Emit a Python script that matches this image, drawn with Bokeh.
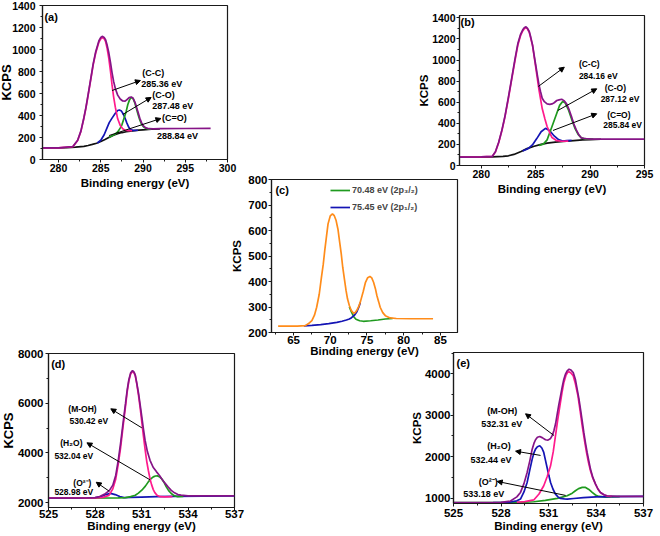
from bokeh.plotting import figure
from bokeh.models import Label, Arrow, NormalHead, SingleIntervalTicker, Range1d, Legend, LegendItem
from bokeh.layouts import column
from bokeh.embed import file_html
from bokeh.resources import INLINE

FONT = "Liberation Sans"

# ---------------- data: panel (a) C 1s ----------------
a_env_x = [278, 280, 281.7, 282.26, 282.65, 283.0, 283.23, 283.5, 283.81, 284.1, 284.4, 284.78, 285.0, 285.17, 285.4,
           285.56, 285.75, 285.95, 286.15, 286.33, 286.52, 286.72, 287.0, 287.3, 287.6, 287.88, 288.1, 288.35, 288.6,
           288.8, 289.05, 289.25, 289.43, 289.62, 289.82, 290.05, 290.33, 290.7, 291.2, 292, 295, 298]
a_env_y = [105, 106, 118, 175, 260, 380, 470, 590, 733, 870, 980, 1080, 1110, 1120, 1110,
           1090, 1040, 970, 880, 790, 710, 645, 585, 550, 532, 530, 545, 562, 568,
           560, 520, 470, 425, 375, 335, 305, 288, 280, 279, 280, 282, 283]
a_cc_x = [278, 280, 281.7, 282.26, 282.65, 283.0, 283.23, 283.5, 283.81, 284.1, 284.4, 284.78, 285.0, 285.17, 285.4,
          285.56, 285.75, 285.95, 286.15, 286.33, 286.52, 286.72, 287.0, 287.3, 287.6, 287.88, 288.27, 288.7]
a_cc_y = [105, 106, 117, 173, 256, 375, 463, 582, 725, 860, 968, 1068, 1098, 1108, 1098,
          1075, 1010, 920, 800, 680, 570, 476, 370, 310, 280, 266, 262, 262]
a_co_x = [284.6, 285.0, 285.4, 285.75, 286.0, 286.33, 286.72, 287.0, 287.2, 287.45, 287.69, 287.9, 288.08, 288.3,
          288.47, 288.8, 289.05, 289.4]
a_co_y = [150, 175, 225, 290, 335, 376, 420, 445, 450, 440, 409, 370, 333, 295, 275, 265, 264, 266]
a_ceo_x = [286.0, 286.5, 286.72, 287.0, 287.3, 287.5, 287.75, 288.0, 288.2, 288.39, 288.55, 288.7, 288.85, 289.05,
           289.25, 289.43, 289.62, 289.82, 290.05, 290.33, 290.7, 291.0]
a_ceo_y = [200, 222, 232, 250, 285, 315, 375, 435, 500, 540, 560, 563, 550, 510, 455, 405, 360, 322, 298, 283, 276, 276]
a_bg_x = [278, 280, 281, 282, 283, 283.5, 284, 284.5, 285, 285.5, 286, 286.5, 287, 287.5, 288, 288.5, 289, 289.5,
          290, 291, 292]
a_bg_y = [105, 106, 108, 112, 120, 127, 137, 148, 163, 182, 202, 220, 235, 245, 252, 258, 263, 267, 270, 275, 278]

# ---------------- data: panel (b) C 1s ----------------
b_env_x = [278, 280, 281.0, 281.3, 281.6, 281.9, 282.17, 282.5, 282.77, 283.1, 283.37, 283.6, 283.81, 283.95, 284.11,
           284.25, 284.41, 284.55, 284.71, 284.85, 285.0, 285.15, 285.3, 285.45, 285.6, 285.8, 286.05, 286.3, 286.5,
           286.7, 286.94, 287.15, 287.39, 287.6, 287.84, 288.05, 288.29, 288.5, 288.73, 288.95, 289.18, 289.4, 289.63,
           290.2, 292, 295]
b_env_y = [80, 81, 86, 130, 220, 338, 464, 650, 812, 1010, 1160, 1240, 1286, 1305, 1315,
           1300, 1270, 1215, 1144, 1050, 955, 860, 766, 700, 638, 605, 584, 580, 584,
           595, 616, 622, 628, 615, 584, 535, 464, 395, 338, 295, 262, 258, 255,
           250, 250, 250]
b_cc_x = [278, 280, 281.0, 281.3, 281.6, 281.9, 282.17, 282.5, 282.77, 283.1, 283.37, 283.6, 283.81, 283.95, 284.11,
          284.25, 284.41, 284.55, 284.71, 285.0, 285.3, 285.6, 285.85, 286.05, 286.3, 286.5, 286.94, 287.4, 288.0]
b_cc_y = [80, 81, 86, 128, 216, 332, 456, 640, 800, 995, 1145, 1228, 1276, 1297, 1308,
          1294, 1262, 1205, 1138, 935, 720, 540, 440, 370, 310, 265, 235, 230, 232]
b_co_x = [283.8, 284.3, 284.7, 285.1, 285.5, 285.9, 286.3, 286.7, 287.1, 287.5, 287.84, 288.3]
b_co_y = [138, 160, 195, 255, 320, 352, 330, 280, 245, 232, 235, 238]
b_ceo_x = [285.3, 285.7, 286.05, 286.5, 286.94, 287.2, 287.48, 287.7, 288.0, 288.3, 288.6, 288.9, 289.2, 289.6, 290.3]
b_ceo_y = [190, 203, 243, 370, 496, 570, 607, 595, 530, 440, 355, 295, 262, 250, 250]
b_bg_x = [278, 280, 281, 282, 282.5, 283, 283.66, 284.2, 284.86, 285.5, 286.05, 286.8, 287.54, 288.5, 289.33, 290, 291]
b_bg_y = [79, 80, 82, 86, 92, 105, 133, 160, 182, 200, 212, 222, 229, 236, 242, 246, 249]

# ---------------- data: panel (c) ----------------
c_env_x = [62.9, 64, 65.5, 66.6, 67.05, 67.5, 67.85, 68.15, 68.5, 68.8, 69.05, 69.25, 69.5, 69.7, 70.0, 70.3, 70.55,
           70.8, 71.05, 71.25, 71.5, 71.7, 71.95, 72.15, 72.35, 72.6, 72.85, 73.15, 73.4, 73.6, 73.9, 74.15, 74.5,
           74.8, 75.1, 75.4, 75.65, 75.9, 76.15, 76.35, 76.6, 76.8, 77.15, 77.5, 78.15, 79, 81, 84]
c_env_y = [225, 225, 225, 227, 235, 247, 268, 299, 350, 416, 468, 521, 580, 626, 657, 665, 658, 639, 605, 561, 508,
           456, 405, 365, 332, 306, 287, 276, 278, 286, 303, 325, 362, 397, 415, 420, 414, 397, 372, 345, 320, 299,
           278, 266, 257, 255, 254, 254]
c_p32_x = [72.6, 72.9, 73.2, 73.5, 74.0, 74.5, 75.5, 76.5, 77.5, 78.5]
c_p32_y = [300, 280, 262, 252, 246, 244, 246, 249, 253, 255]
c_p12_x = [66.4, 67.5, 68.7, 69.8, 70.9, 71.6, 72.2, 72.6, 72.9, 73.3, 73.6, 73.9, 74.1]
c_p12_y = [226, 228, 231, 235, 240, 244, 249, 253, 258, 268, 280, 300, 318]
c_legend = ["70.48 eV (2p\u2083/\u2082)", "75.45 eV (2p\u2081/\u2082)"]

# ---------------- data: panel (d) O 1s ----------------
d_env_x = [525, 527, 527.5, 528.0, 528.3, 528.6, 528.92, 529.15, 529.34, 529.5, 529.65, 529.8, 529.97, 530.08,
           530.18, 530.3, 530.42, 530.52, 530.6, 530.7, 530.81, 530.92, 531.02, 531.12, 531.23, 531.38, 531.55,
           531.75, 531.97, 532.15, 532.29, 532.5, 532.71, 532.92, 533.13, 533.35, 533.55, 534, 537]
d_env_y = [2180, 2180, 2185, 2200, 2240, 2330, 2480, 2700, 3100, 3700, 4380, 5150, 5990, 6550,
           6930, 7220, 7310, 7250, 7130, 6800, 6390, 5900, 5450, 4980, 4510, 4050, 3700,
           3420, 3235, 3100, 2970, 2790, 2630, 2490, 2390, 2320, 2295, 2270, 2265]
d_moh_x = [525, 528.0, 528.5, 528.9, 529.15, 529.34, 529.5, 529.65, 529.8, 529.97, 530.08, 530.18, 530.3, 530.42,
           530.52, 530.6, 530.7, 530.81, 530.92, 531.02, 531.12, 531.23, 531.34, 531.44, 531.55, 531.65, 531.76,
           531.86, 532.0, 532.2, 532.5, 533]
d_moh_y = [2180, 2185, 2210, 2290, 2550, 2950, 3550, 4200, 5000, 5880, 6470, 6880, 7180, 7280,
           7220, 7100, 6760, 6300, 5780, 5250, 4700, 4150, 3650, 3300, 2950, 2720, 2520,
           2400, 2290, 2235, 2230, 2235]
d_o2_x = [525, 528.0, 528.4, 528.7, 529.0, 529.3, 529.6, 529.87, 530.3, 531, 532, 533, 535, 537]
d_o2_y = [2180, 2190, 2240, 2320, 2370, 2320, 2240, 2200, 2205, 2220, 2240, 2250, 2258, 2262]
d_h2o_x = [525, 529.5, 529.97, 530.3, 530.6, 530.8, 531.02, 531.25, 531.44, 531.6, 531.76, 531.9, 532.03, 532.15,
           532.29, 532.45, 532.6, 532.75, 532.92, 533.1, 533.34, 533.7]
d_h2o_y = [2180, 2190, 2200, 2240, 2295, 2380, 2496, 2660, 2832, 2950, 3033, 3068, 3074, 3040,
           2966, 2820, 2631, 2480, 2362, 2280, 2235, 2245]

# ---------------- data: panel (e) O 1s ----------------
e_env_x = [525, 527, 528, 528.6, 529.0, 529.23, 529.45, 529.65, 529.82, 529.97, 530.08, 530.18, 530.3, 530.45, 530.6,
           530.81, 530.97, 531.13, 531.25, 531.34, 531.45, 531.55, 531.65, 531.76, 531.87, 531.97, 532.08, 532.18,
           532.3, 532.42, 532.56, 532.7, 532.81, 532.92, 533.02, 533.13, 533.23, 533.34, 533.44, 533.55, 533.65,
           533.8, 533.97, 534.12, 534.28, 534.5, 534.7, 535.34, 537]
e_env_y = [890, 890, 895, 930, 1030, 1137, 1350, 1620, 1900, 2182, 2320, 2408, 2470, 2488, 2460,
           2408, 2400, 2440, 2520, 2625, 2800, 3027, 3250, 3469, 3690, 3871, 4000, 4072,
           4110, 4090, 4032, 3860, 3630, 3400, 3147, 2860, 2584, 2320, 2102, 1890, 1700,
           1500, 1338, 1220, 1137, 1080, 1057, 1040, 1040]
e_moh_x = [529.0, 529.5, 530.07, 530.4, 530.7, 530.92, 531.13, 531.3, 531.44, 531.58, 531.72, 531.85, 531.97, 532.1,
           532.2, 532.29, 532.42, 532.56, 532.7, 532.86, 533.0, 533.13, 533.27, 533.4, 533.52, 533.65, 533.8,
           533.97, 534.12, 534.28, 534.5, 534.7, 535]
e_moh_y = [900, 915, 956, 1100, 1298, 1520, 1780, 2120, 2504, 2880, 3228, 3540, 3791, 3960,
           4030, 4048, 4020, 3951, 3760, 3469, 3100, 2745, 2400, 2102, 1870, 1660, 1480,
           1338, 1220, 1137, 1080, 1050, 1040]
e_h2o_x = [527.5, 528.5, 529.0, 529.23, 529.45, 529.65, 529.82, 529.97, 530.08, 530.18, 530.3, 530.45, 530.58, 530.7,
           530.8, 530.91, 531.02, 531.13, 531.28, 531.44, 531.6, 531.76, 532.0, 532.18, 532.6, 533.2, 534, 535, 537]
e_h2o_y = [890, 900, 935, 977, 1150, 1378, 1680, 1941, 2090, 2182, 2240, 2263, 2210, 2102,
           1930, 1740, 1550, 1378, 1220, 1097, 1030, 992, 980, 976, 990, 1010, 1030, 1038, 1040]
e_o2_x = [525, 527, 528.5, 529.5, 530.07, 530.8, 531.55, 532.18, 532.5, 532.7, 532.9, 533.13, 533.34, 533.55, 533.76,
          533.97, 534.18, 534.6, 535.0, 535.5]
e_o2_y = [890, 892, 898, 905, 912, 945, 992, 1057, 1120, 1178, 1230, 1258, 1258, 1210, 1137,
          1075, 1041, 1025, 1030, 1035]

PURPLE = "#861487"
PINK = "#ff1a8c"
BLUE = "#1414b4"
GREEN = "#1f9a1f"
BLACK = "#111111"
ORANGE = "#ff8c1a"


def make_panel(frame, xr, yr, border, xt, yt, fs, ytitle_fs, ystand, ytstand, xstand, xtstand):
    fl, ft, fw, fh = frame
    bl, br, bt, bb = border
    p = figure(width=bl + fw + br, height=bt + fh + bb,
               x_range=Range1d(*xr), y_range=Range1d(*yr),
               output_backend="svg", toolbar_location=None,
               min_border_left=bl, min_border_right=br, min_border_top=bt, min_border_bottom=bb,
               background_fill_color=None, border_fill_color=None,
               outline_line_color="#1a1a1a", outline_line_width=1.2,
               styles={"position": "absolute", "left": f"{fl - bl}px", "top": f"{ft - bt}px"})
    p.xgrid.visible = False
    p.ygrid.visible = False
    p.xaxis.ticker = SingleIntervalTicker(interval=xt[0], num_minor_ticks=xt[1])
    p.yaxis.ticker = SingleIntervalTicker(interval=yt[0], num_minor_ticks=yt[1])
    for ax in (p.xaxis, p.yaxis):
        ax.major_tick_in = 0
        ax.major_tick_out = 3
        ax.minor_tick_in = 0
        ax.minor_tick_out = 2
        ax.axis_line_color = "#1a1a1a"
        ax.axis_line_width = 1.2
        ax.major_tick_line_color = "#1a1a1a"
        ax.minor_tick_line_color = "#1a1a1a"
        ax.major_label_text_font = FONT
        ax.major_label_text_font_style = "bold"
        ax.major_label_text_font_size = fs
        ax.major_label_text_color = "black"
        ax.axis_label_text_font = FONT
        ax.axis_label_text_font_style = "bold"
        ax.axis_label_text_color = "black"
    p.xaxis.axis_label = "Binding energy (eV)"
    p.xaxis.axis_label_text_font_size = "11.5px"
    p.yaxis.axis_label = "KCPS"
    p.yaxis.axis_label_text_font_size = ytitle_fs
    p.yaxis.major_label_standoff = ystand
    p.yaxis.axis_label_standoff = ytstand
    p.xaxis.major_label_standoff = xstand
    p.xaxis.axis_label_standoff = xtstand
    return p


def tag(p, x, y, text, size):
    p.add_layout(Label(x=x, y=y, text=text, text_font=FONT, text_font_style="bold",
                       text_font_size=size, text_baseline="middle", text_align="left", text_color="black"))


def arrow(p, xs, ys, xe, ye):
    p.add_layout(Arrow(end=NormalHead(size=5, fill_color="black", line_color="black", line_width=1),
                       x_start=xs, y_start=ys, x_end=xe, y_end=ye, line_color="black", line_width=1))


LW = 1.7

# ---- (a) ----
pa = make_panel((42, 5, 189, 154), (278.1, 300), (0, 1400), (60, 12, 8, 40),
                (5, 2), (200, 2), "10.5px", "13px", 4, -5, 1, 2)
pa.line(a_bg_x, a_bg_y, line_color=BLACK, line_width=LW)
pa.line(a_co_x, a_co_y, line_color=BLUE, line_width=LW)
pa.line(a_ceo_x, a_ceo_y, line_color=GREEN, line_width=LW)
pa.line(a_cc_x, a_cc_y, line_color=PINK, line_width=LW)
pa.line(a_env_x, a_env_y, line_color=PURPLE, line_width=LW)
tag(pa, 278.33, 1300, "(a)", "11px")
arrow(pa, 286.33, 627, 289.69, 718)
arrow(pa, 287.6, 409, 290.96, 564)
arrow(pa, 285.98, 218, 292.12, 373)
tag(pa, 289.92, 782, "(C-C)", "9px")
tag(pa, 289.8, 688, "285.36 eV", "9px")
tag(pa, 291.08, 588, "(C-O)", "9px")
tag(pa, 291.08, 482, "287.48 eV", "9px")
tag(pa, 292.24, 379, "(C=O)", "9px")
tag(pa, 291.66, 218, "288.84 eV", "9px")

# ---- (b) ----
pb = make_panel((459, 15, 190, 150), (278, 295), (0, 1422), (60, 11, 8, 40),
                (5, 2), (200, 2), "10.5px", "11.5px", 1, -1, 1, 2)
pb.line(b_bg_x, b_bg_y, line_color=BLACK, line_width=LW)
pb.line(b_co_x, b_co_y, line_color=BLUE, line_width=LW)
pb.line(b_ceo_x, b_ceo_y, line_color=GREEN, line_width=LW)
pb.line(b_cc_x, b_cc_y, line_color=PINK, line_width=LW)
pb.line(b_env_x, b_env_y, line_color=PURPLE, line_width=LW)
tag(pb, 278.1, 1356, "(b)", "11px")
arrow(pb, 285.24, 749, 287.63, 932)
arrow(pb, 287.03, 521, 290.61, 727)
arrow(pb, 286.59, 332, 290.61, 490)
tag(pb, 288.97, 964, "(C-C)", "8.5px")
tag(pb, 288.97, 853, "284.16 eV", "8.5px")
tag(pb, 291.35, 733, "(C-O)", "8.5px")
tag(pb, 290.97, 626, "287.12 eV", "8.5px")
tag(pb, 291.57, 481, "(C=O)", "8.5px")
tag(pb, 291.21, 386, "285.84 eV", "8.5px")

# ---- (c) ----
pc = make_panel((271, 179, 190, 153), (62, 87.33), (200, 800), (60, 12, 8, 35),
                (5, 2), (100, 2), "11.5px", "11.5px", 1, 2, 0, -2)
r32 = pc.line(c_p32_x, c_p32_y, line_color=GREEN, line_width=LW)
r12 = pc.line(c_p12_x, c_p12_y, line_color=BLUE, line_width=LW)
pc.line(c_env_x, c_env_y, line_color=ORANGE, line_width=LW)
tag(pc, 62.53, 760, "(c)", "11px")
leg = Legend(items=[LegendItem(label=c_legend[0], renderers=[r32]),
                    LegendItem(label=c_legend[1], renderers=[r12])],
             location=(59, 119), border_line_color=None, background_fill_alpha=0,
             padding=0, margin=0, spacing=5, glyph_width=20, glyph_height=12, label_height=12,
             label_standoff=2, label_text_font=FONT, label_text_font_style="bold",
             label_text_font_size="9px")
pc.add_layout(leg)

# ---- (d) ----
pd_ = make_panel((48, 353, 190, 154), (525, 537), (1800, 8000), (60, 12, 8, 29),
                 (3, 2), (2000, 2), "11.5px", "13px", 2, -1, -1, -1)
pd_.line(d_o2_x, d_o2_y, line_color=BLUE, line_width=LW)
pd_.line(d_h2o_x, d_h2o_y, line_color=GREEN, line_width=LW)
pd_.line(d_moh_x, d_moh_y, line_color=PINK, line_width=LW)
pd_.line(d_env_x, d_env_y, line_color=PURPLE, line_width=LW)
tag(pd_, 525.17, 7577, "(d)", "11px")
arrow(pd_, 531.02, 5008, 529.02, 5773)
arrow(pd_, 531.55, 2914, 527.48, 4404)
arrow(pd_, 528.92, 2455, 528.08, 2817)
tag(pd_, 526.28, 5773, "(M-OH)", "8.5px")
tag(pd_, 526.35, 5302, "530.42 eV", "8.5px")
tag(pd_, 525.76, 4388, "(H\u2082O)", "8.5px")
tag(pd_, 525.38, 3893, "532.04 eV", "8.5px")
tag(pd_, 526.6, 2777, "(O\u00b2\u207b)", "8.5px")
tag(pd_, 525.38, 2415, "528.98 eV", "8.5px")

# ---- (e) ----
pe = make_panel((453, 352, 190, 151), (525, 537), (870, 4514), (60, 16, 8, 33),
                (3, 2), (1000, 2), "11.5px", "11.5px", 0, -1, 2, 0)
pe.line(e_o2_x, e_o2_y, line_color=GREEN, line_width=LW)
pe.line(e_h2o_x, e_h2o_y, line_color=BLUE, line_width=LW)
pe.line(e_moh_x, e_moh_y, line_color=PINK, line_width=LW)
pe.line(e_env_x, e_env_y, line_color=PURPLE, line_width=LW)
tag(pe, 525.19, 4249, "(e)", "11px")
arrow(pe, 531.34, 2512, 529.55, 3035)
arrow(pe, 530.5, 2030, 528.92, 2133)
arrow(pe, 532.08, 1065, 527.76, 1403)
tag(pe, 527.13, 3098, "(M-OH)", "9px")
tag(pe, 526.75, 2777, "532.31 eV", "9px")
tag(pe, 527.13, 2247, "(H\u2082O)", "9px")
tag(pe, 526.07, 1926, "532.44 eV", "9px")
tag(pe, 526.6, 1386, "(O\u00b2\u207b)", "9px")
tag(pe, 525.61, 1106, "533.18 eV", "9px")

p = column(pa, pb, pc, pd_, pe, width=660, height=536,
           styles={"position": "absolute", "left": "0px", "top": "0px"})

open("out.html", "w").write(file_html(p, INLINE))
